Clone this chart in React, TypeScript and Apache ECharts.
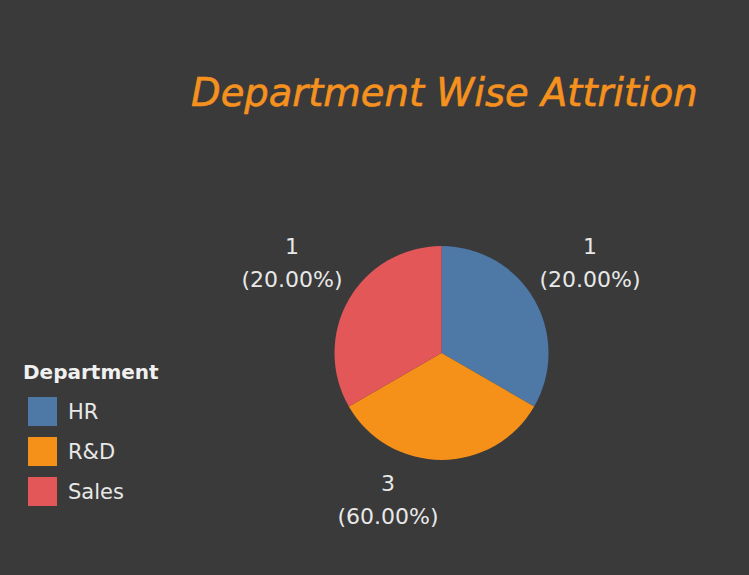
import React, { useEffect, useRef } from "react";
import * as echarts from "echarts";

const departments = ["HR", "R&D", "Sales"];
const attritionCount = [1, 3, 1];
// slice size measure (slices are drawn equal in the reference)
const sliceMeasure = [1, 1, 1];
const colors = ["#4e79a7", "#f59118", "#e45759"];
const labelPositions = [
  [590, 263],
  [388, 500],
  [292, 263],
];

export default function App() {
  const ref = useRef<HTMLDivElement>(null);
  useEffect(() => {
    document.body.style.margin = "0";
    const chart = echarts.init(ref.current!, undefined, { renderer: "svg" });
    const total = attritionCount.reduce((a, b) => a + b, 0);
    chart.setOption({
      animation: false,
      backgroundColor: "#3a3a3a",
      title: {
        text: "Department Wise Attrition",
        left: 186,
        top: 68,
        textStyle: {
          color: "#f5911e",
          fontSize: 38.5,
          fontStyle: "italic",
          fontWeight: "normal",
          fontFamily: "DejaVu Sans",
          textBorderColor: "#f5911e",
          textBorderWidth: 0.6,
        },
      },
      legend: {
        orient: "vertical",
        left: 28,
        top: 397,
        padding: 0,
        itemWidth: 29,
        itemHeight: 29,
        itemGap: 11,
        icon: "rect",
        data: departments,
        textStyle: { color: "#e8e8e8", fontSize: 21, fontFamily: "DejaVu Sans", padding: [0, 0, 0, 6] },
      },
      graphic: [
        {
          type: "text",
          left: 23,
          top: 362,
          style: {
            text: "Department",
            fill: "#f0f0f0",
            fontSize: 20,
            fontWeight: "bold",
            fontFamily: "DejaVu Sans",
          },
        },
      ],
      series: [
        {
          type: "pie",
          center: [441.5, 353],
          radius: 107,
          startAngle: 90,
          clockwise: true,
          silent: true,
          data: departments.map((d, i) => ({
            name: d,
            value: sliceMeasure[i],
            itemStyle: { color: colors[i] },
            label: {
              formatter: `${attritionCount[i]}\n(${((attritionCount[i] / total) * 100).toFixed(2)}%)`,
            },
          })),
          label: {
            show: true,
            position: "outside",
            color: "#e8e8e8",
            fontSize: 22,
            lineHeight: 33,
            align: "center",
            fontFamily: "DejaVu Sans",
          },
          labelLine: { show: false },
          labelLayout: (p: any) => ({
            x: labelPositions[p.dataIndex][0],
            y: labelPositions[p.dataIndex][1],
            align: "center",
            verticalAlign: "middle",
          }),
        },
      ],
    });
    return () => chart.dispose();
  }, []);
  return <div ref={ref} style={{ width: 749, height: 575 }} />;
}
